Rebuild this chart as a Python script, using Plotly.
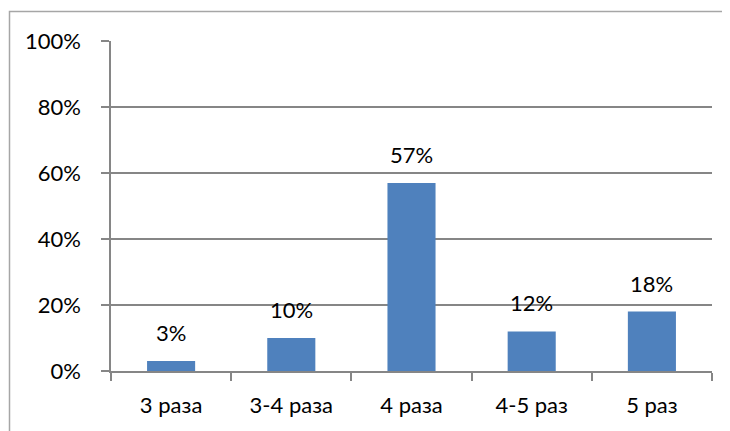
import plotly.graph_objects as go

categories = ["3 раза", "3-4 раза", "4 раза", "4-5 раз", "5 раз"]
values = [3, 10, 57, 12, 18]
labels = ["3%", "10%", "57%", "12%", "18%"]
y_ticks = [0, 20, 40, 60, 80, 100]
y_tick_text = ["0%", "20%", "40%", "60%", "80%", "100%"]

W, H = 730, 431
OFF = 8  # page body margin offset
L, R, T, B = 111 - OFF, 18 + OFF, 41 - OFF, 60 + OFF
pw, ph = W - L - R, H - T - B
FONT = "Lato, Liberation Sans, Arial"
FS = 22

fig = go.Figure()
fig.add_trace(go.Bar(x=categories, y=values, marker=dict(color="#4f81bd", line=dict(width=0)),
                     width=0.4, hoverinfo="skip"))

for c, v, t in zip(categories, values, labels):
    fig.add_annotation(x=c, y=v, text=t, showarrow=False, yanchor="bottom", yshift=13,
                       font=dict(family=FONT, size=FS, color="#000000"))

def px_x(p):
    return (p - OFF - L) / pw

def px_y(p):
    return (H - B - (p - OFF)) / ph

fig.add_shape(type="rect", xref="paper", yref="paper",
              x0=px_x(9.5), x1=px_x(745), y0=px_y(445), y1=px_y(11.5),
              line=dict(color="#a6a6a6", width=1.5), fillcolor="rgba(0,0,0,0)", layer="below")

fig.update_layout(
    width=W, height=H,
    margin=dict(l=L, r=R, t=T, b=B),
    paper_bgcolor="white", plot_bgcolor="white",
    showlegend=False,
    font=dict(family=FONT, size=FS, color="#000000"),
)
fig.update_xaxes(showline=True, linecolor="#868686", linewidth=1.5, ticks="outside",
                 tickson="boundaries", ticklen=8, tickcolor="#868686", tickwidth=1.5,
                 showgrid=False, tickfont=dict(size=FS), range=[-0.5, 4.5],
                 ticklabelstandoff=14)
fig.update_yaxes(range=[0, 100], tickvals=y_ticks, ticktext=y_tick_text, showgrid=True,
                 gridcolor="#868686", gridwidth=1.5, showline=True, linecolor="#868686",
                 linewidth=1.5, ticks="outside", ticklen=8, tickcolor="#868686", tickwidth=1.5,
                 tickfont=dict(size=FS), zeroline=False, ticklabelstandoff=16)

fig.write_html("out.html")
